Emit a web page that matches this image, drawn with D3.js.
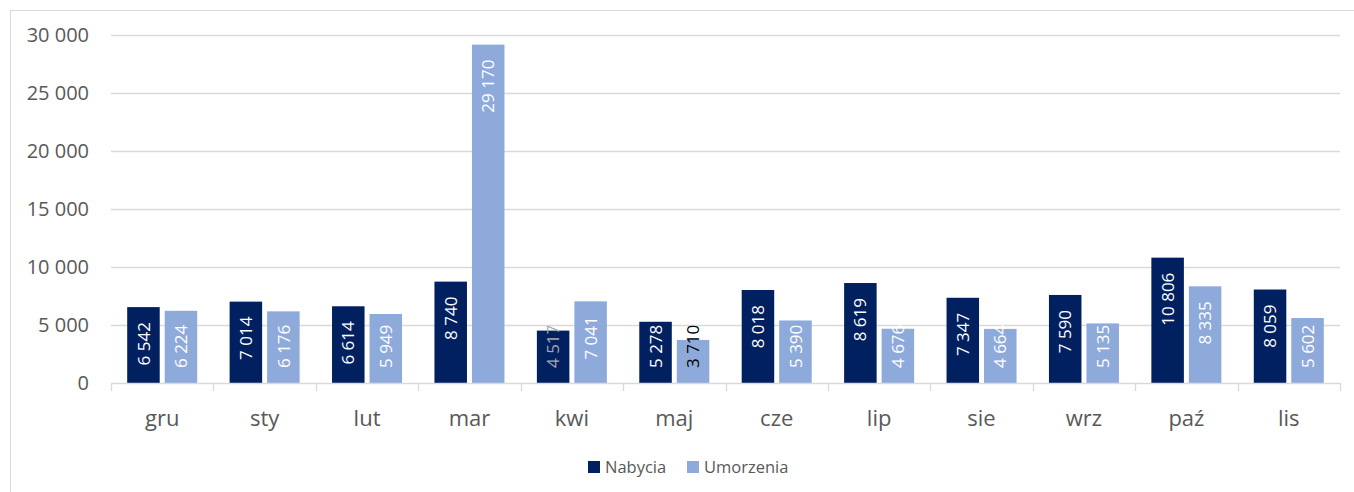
<!DOCTYPE html>
<html>
<head>
<meta charset="utf-8">
<script src="https://cdn.jsdelivr.net/npm/d3@7"></script>
<style>
  html, body { margin: 0; padding: 0; background: #fff; }
  svg { display: block; font-family: "Open Sans", sans-serif; }
</style>
</head>
<body>
<svg id="chart" width="1354" height="492"></svg>
<script>
const months = ["gru", "sty", "lut", "mar", "kwi", "maj", "cze", "lip", "sie", "wrz", "paź", "lis"];
const seriesNames = ["Nabycia", "Umorzenia"];
const nabycia = [6542, 7014, 6614, 8740, 4517, 5278, 8018, 8619, 7347, 7590, 10806, 8059];
const umorzenia = [6224, 6176, 5949, 29170, 7041, 3710, 5390, 4676, 4664, 5135, 8335, 5602];
const yTicks = [0, 5000, 10000, 15000, 20000, 25000, 30000];

const colors = { "Nabycia": "#002060", "Umorzenia": "#8eaadb" };
const svg = d3.select("#chart");
const W = 1354, H = 492;

// chart border
svg.append("rect").attr("x", 10.5).attr("y", 10.5).attr("width", W).attr("height", H)
  .attr("fill", "#fff").attr("stroke", "#d9d9d9").attr("stroke-width", 1);

const plot = { left: 111, right: 1340, top: 35, bottom: 383 };
const x0 = d3.scaleBand().domain(months).range([plot.left, plot.right]).paddingInner(0).paddingOuter(0);
const x1 = d3.scaleBand().domain(seriesNames).range([0, x0.bandwidth()]).paddingInner(0.133).paddingOuter(0.432);
const y = d3.scaleLinear().domain([0, 30000]).range([plot.bottom, plot.top]);

const fmt = v => d3.format(",")(v).replace(/,/g, " ");

// gridlines
svg.append("g").selectAll("line").data(yTicks.filter(t => t > 0)).join("line")
  .attr("x1", plot.left).attr("x2", plot.right)
  .attr("y1", d => Math.round(y(d)) + 0.5).attr("y2", d => Math.round(y(d)) + 0.5)
  .attr("stroke", "#d9d9d9").attr("stroke-width", 1.3);

// y axis labels
const yAxis = d3.axisLeft(y).tickValues(yTicks).tickFormat(fmt).tickSize(0).tickPadding(0);
const yg = svg.append("g").attr("transform", `translate(${plot.left - 22},0)`).call(yAxis);
yg.select(".domain").remove();
yg.selectAll("text").attr("fill", "#595959").attr("font-size", 20).attr("font-family", "'Open Sans', sans-serif");

// bars
const data = months.map((m, i) => ({ month: m, values: [
  { series: "Nabycia", value: nabycia[i] },
  { series: "Umorzenia", value: umorzenia[i] }
]}));

const groups = svg.append("g").selectAll("g").data(data).join("g")
  .attr("transform", d => `translate(${x0(d.month)},0)`);

groups.selectAll("rect").data(d => d.values).join("rect")
  .attr("x", d => x1(d.series)).attr("width", x1.bandwidth())
  .attr("y", d => y(d.value)).attr("height", d => y(0) - y(d.value))
  .attr("fill", d => colors[d.series]);

// label colour exceptions (as in the original chart)
function labelColor(month, series) {
  if (month === "kwi" && series === "Nabycia") return "#a6a6a6";
  if (month === "maj" && series === "Umorzenia") return "#000000";
  return "#ffffff";
}

// labels: "inside end" (15px below bar top), but kept at least 15px above the base
const margin = 15;
groups.each(function(g) {
  d3.select(this).selectAll("text.val").data(g.values).join("text")
    .attr("class", "val")
    .attr("text-anchor", "start")
    .attr("dy", "0.36em")
    .attr("font-size", 17)
    .attr("fill", d => labelColor(g.month, d.series))
    .text(d => fmt(d.value))
    .each(function(d) {
      const len = this.getComputedTextLength();
      const top = Math.min(y(d.value) + margin, y(0) - margin - len);
      const bottom = top + len;
      d3.select(this).attr("transform",
        `translate(${x1(d.series) + x1.bandwidth() / 2},${bottom}) rotate(-90)`);
    });
});

// x axis line
svg.append("line").attr("x1", plot.left).attr("x2", plot.right)
  .attr("y1", plot.bottom + 0.5).attr("y2", plot.bottom + 0.5)
  .attr("stroke", "#d9d9d9").attr("stroke-width", 1.3);

// tick marks at category boundaries
const boundaries = months.map(m => x0(m)).concat([plot.right]);
svg.append("g").selectAll("line").data(boundaries).join("line")
  .attr("x1", d => Math.round(d) + 0.5).attr("x2", d => Math.round(d) + 0.5)
  .attr("y1", plot.bottom).attr("y2", plot.bottom + 8)
  .attr("stroke", "#d9d9d9").attr("stroke-width", 1.3);

// category labels
svg.append("g").selectAll("text").data(months).join("text")
  .attr("x", d => x0(d) + x0.bandwidth() / 2)
  .attr("y", 426)
  .attr("text-anchor", "middle")
  .attr("font-size", 22)
  .attr("fill", "#595959")
  .text(d => d);

// legend
const legend = svg.append("g");
const legendItems = [
  { name: "Nabycia", x: 588 },
  { name: "Umorzenia", x: 687 }
];
legendItems.forEach(it => {
  legend.append("rect").attr("x", it.x).attr("y", 461).attr("width", 12).attr("height", 12)
    .attr("fill", colors[it.name]);
  legend.append("text").attr("x", it.x + 17).attr("y", 467).attr("dy", "0.35em")
    .attr("font-size", 16.5).attr("fill", "#595959").text(it.name);
});
</script>
</body>
</html>
